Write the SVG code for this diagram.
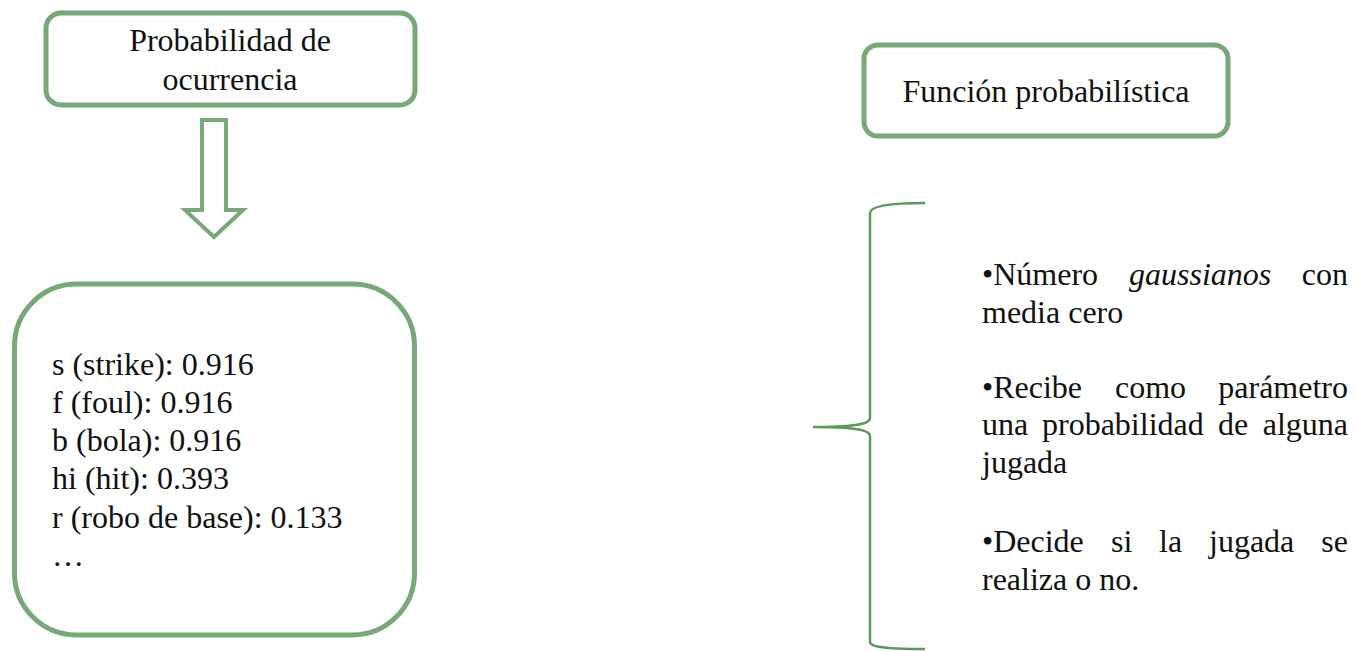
<svg xmlns="http://www.w3.org/2000/svg" width="1355" height="651" viewBox="0 0 1355 651">
<style>
.box{fill:#fff;stroke:#78a878;stroke-width:5}
.t{font-family:'Liberation Serif','Times New Roman',serif;font-size:32px;fill:#111}
.c{text-anchor:middle}
.e{text-anchor:end}
.i{font-style:italic}
.conn{fill:none;stroke:#78a878}
</style>
<rect width="1355" height="651" fill="#fff"/>
<g id="node-prob">
<rect class="box" x="46" y="13" width="369" height="92" rx="15"/>
<text class="t c" x="230" y="51">Probabilidad de</text>
<text class="t c" x="230" y="90">ocurrencia</text>
</g>
<g id="connectors">
<polygon class="conn" stroke-width="4" fill="#fff" points="202,120 226,120 226,210 243,210 214,237 185,210 202,210"/>
<path class="conn" stroke-width="2.5" style="stroke:#5c9a5c" d="M925,203 C895,203 870,205 870,213 L870,418 C870,425 850,427 813,427 C850,427 870,429 870,436 L870,642 C870,648 895,649 925,649"/>
</g>
<g id="node-list">
<rect class="box" x="14.5" y="284" width="400" height="351" rx="62"/>
<text class="t" x="52" y="375">s (strike): 0.916</text>
<text class="t" x="52" y="413">f (foul): 0.916</text>
<text class="t" x="52" y="451">b (bola): 0.916</text>
<text class="t" x="52" y="489">hi (hit): 0.393</text>
<text class="t" x="52" y="528">r (robo de base): 0.133</text>
<text class="t" x="52" y="566">…</text>
</g>
<g id="node-func">
<rect class="box" x="864" y="45" width="364" height="91" rx="14"/>
<text class="t c" x="1046" y="102">Función probabilística</text>
</g>
<g id="node-desc">
<text class="t" x="982" y="285">•Número</text>
<text class="t i" x="1129" y="285">gaussianos</text>
<text class="t e" x="1348" y="285">con</text>
<text class="t" x="982" y="323">media cero</text>
<text class="t" x="982" y="398">•Recibe</text>
<text class="t" x="1115" y="398">como</text>
<text class="t e" x="1348" y="398">parámetro</text>
<text class="t" x="982" y="435">una</text>
<text class="t" x="1042" y="435">probabilidad</text>
<text class="t" x="1218" y="435">de</text>
<text class="t e" x="1348" y="435">alguna</text>
<text class="t" x="982" y="473">jugada</text>
<text class="t" x="982" y="552">•Decide</text>
<text class="t" x="1111" y="552">si</text>
<text class="t" x="1159" y="552">la</text>
<text class="t" x="1209" y="552">jugada</text>
<text class="t e" x="1348" y="552">se</text>
<text class="t" x="982" y="590">realiza o no.</text>
</g>
</svg>
